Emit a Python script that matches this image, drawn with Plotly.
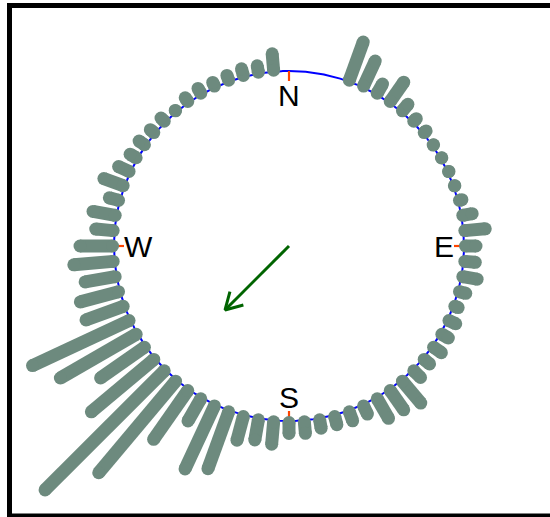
import numpy as np
import plotly.graph_objects as go

# ---- data -------------------------------------------------------------
bin_deg = list(range(0, 360, 5))          # bin centres, clockwise from North
freq = [None, None, None, None, 42, 29, 12, 25, 10, 5, 4, 1, 1, 1, 1, 4,
        11, 22, 12, 12, 16, 8, 5, 9, 9, 11, 8.5, 11, 30, 25, 24, 10.5,
        11, 10, 10, 13, 12.5, 24, 22, 26, 62, 71, 27, 61, 121, 170, 83, 55,
        89, 108, 41, 41, 32, 41, 34, 19, 24, 11, 22, 13, 8.5, 8, 6, 6,
        2, 6, 7, 5.5, 6.5, 8.5, 8, 18]
mean_dir_deg = 225.0
mean_rho = 0.517
compass_labels = ["N", "E", "S", "W"]
compass_deg = [0, 90, 180, 270]

# ---- style ------------------------------------------------------------
PX = 175.0                  # pixels per unit radius
W, H = 550, 517
CX, CY = 289.0, 246.0       # centre in pixels
freq_scale = 1.0 / PX       # radius units per frequency unit
bar_w = 13
bar_r0 = 1.0 + 1.5 / PX
bar_col = "#6D8A7E"
label_r = [0.862, 0.885, 0.865, 0.862]


def pol(r, deg):
    t = np.deg2rad(deg)
    return r * np.sin(t), r * np.cos(t)


fig = go.Figure()

# circle
th = np.linspace(0, 360, 721)
cx, cy = pol(1.0, th)
fig.add_trace(go.Scatter(x=cx, y=cy, mode="lines",
                         line=dict(color="#0000FF", width=2),
                         hoverinfo="skip"))

# compass ticks
tx, ty = [], []
for d in compass_deg:
    x0, y0 = pol(1.0, d)
    x1, y1 = pol(1.0 - 10 / PX, d)
    tx += [x0, x1, None]
    ty += [y0, y1, None]
fig.add_trace(go.Scatter(x=tx, y=ty, mode="lines",
                         line=dict(color="#FF4500", width=2.2),
                         hoverinfo="skip"))

# bars
bx, by, ex, ey = [], [], [], []
for d, f in zip(bin_deg, freq):
    if f is None:
        continue
    x0, y0 = pol(bar_r0, d)
    x1, y1 = pol(1.0 + f * freq_scale, d)
    bx += [x0, x1, None]
    by += [y0, y1, None]
    ex += [x0, x1]
    ey += [y0, y1]
fig.add_trace(go.Scatter(x=bx, y=by, mode="lines",
                         line=dict(color=bar_col, width=bar_w),
                         hoverinfo="skip"))
fig.add_trace(go.Scatter(x=ex, y=ey, mode="markers",
                         marker=dict(color=bar_col, size=bar_w,
                                     line=dict(width=0)),
                         hoverinfo="skip"))

# mean direction arrow
tipx, tipy = pol(mean_rho, mean_dir_deg)
arm = 19 / PX
a1x, a1y = pol(arm, mean_dir_deg + 180 + 30)
a2x, a2y = pol(arm, mean_dir_deg + 180 - 30)
fig.add_trace(go.Scatter(
    x=[0, tipx, None, tipx + a1x, tipx, tipx + a2x],
    y=[0, tipy, None, tipy + a1y, tipy, tipy + a2y],
    mode="lines", line=dict(color="#006400", width=3),
    hoverinfo="skip"))

# compass labels
for lab, d, lr in zip(compass_labels, compass_deg, label_r):
    lx, ly = pol(lr, d)
    fig.add_annotation(x=lx, y=ly, text=lab, showarrow=False,
                       xanchor="center", yanchor="middle",
                       font=dict(family="Liberation Sans, Arial", size=30,
                                 color="black"))

# frame
fig.add_shape(type="rect", xref="paper", yref="paper",
              x0=9.5 / W, x1=1.05, y0=1 - 516 / H, y1=1 - 5.5 / H,
              line=dict(color="black", width=5))

fig.update_layout(
    width=W, height=H, margin=dict(l=0, r=0, t=0, b=0),
    paper_bgcolor="white", plot_bgcolor="white", showlegend=False,
    xaxis=dict(range=[-CX / PX, (W - CX) / PX], visible=False,
               fixedrange=True),
    yaxis=dict(range=[-(H - CY) / PX, CY / PX], visible=False,
               fixedrange=True),
)

fig.write_html(
    "out.html",
    config={"displayModeBar": False},
    post_script="document.body.style.margin='0';"
                "document.body.style.padding='0';"
                "document.body.style.overflow='hidden';",
)
